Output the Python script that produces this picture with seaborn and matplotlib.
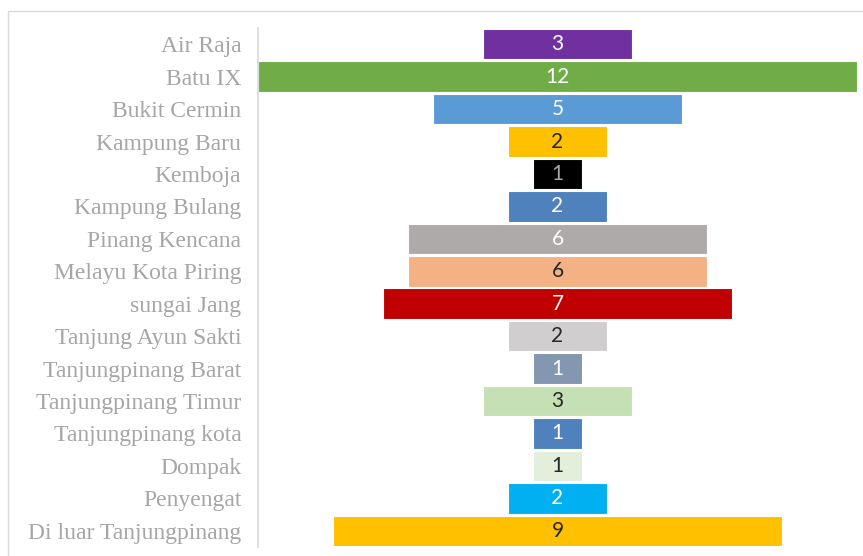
import matplotlib
matplotlib.use("Agg")
import matplotlib.pyplot as plt
from matplotlib.patches import Rectangle
import seaborn as sns
import pandas as pd

# ── Data ───────────────────────────────────────────────────────────────────────
AREAS = [
    "Air Raja", "Batu IX", "Bukit Cermin", "Kampung Baru", "Kemboja",
    "Kampung Bulang", "Pinang Kencana", "Melayu Kota Piring", "sungai Jang",
    "Tanjung Ayun Sakti", "Tanjungpinang Barat", "Tanjungpinang Timur",
    "Tanjungpinang kota", "Dompak", "Penyengat", "Di luar Tanjungpinang",
]
COUNTS = [3, 12, 5, 2, 1, 2, 6, 6, 7, 2, 1, 3, 1, 1, 2, 9]
BAR_COLORS = [
    "#7030A0", "#70AD47", "#5B9BD5", "#FFC000", "#000000", "#4F81BD",
    "#AEAAAA", "#F4B183", "#C00000", "#D0CECE", "#8497B0", "#C5E0B4",
    "#4F81BD", "#E2EFDA", "#00B0F0", "#FFC000",
]
VALUE_COLORS = [
    "white", "white", "white", "#262626", "#a6a6a6", "white",
    "white", "#262626", "white", "#262626", "white", "#262626",
    "white", "#262626", "white", "#262626",
]

# ── Style ──────────────────────────────────────────────────────────────────────
LABEL_GREY = "#a6a6a6"
sns.set_style("white")

df = pd.DataFrame({"area": AREAS, "count": COUNTS})

fig = plt.figure(figsize=(8.63, 5.56), dpi=100)
ax = fig.add_axes([258 / 863, 9 / 556, 599 / 863, 519 / 556])

sns.barplot(data=df, x="count", y="area", hue="area", palette=BAR_COLORS,
            legend=False, width=0.94, saturation=1, edgecolor="white",
            linewidth=0.8, orient="h", ax=ax)

# centre each bar on zero (funnel layout)
for bar, val, tc in zip(ax.patches, COUNTS, VALUE_COLORS):
    w = bar.get_width()
    bar.set_x(-w / 2)
    ax.text(0, bar.get_y() + bar.get_height() / 2, f"{val}",
            ha="center", va="center", fontsize=15, color=tc,
            family="Lato")

ax.set_xlim(-6, 6)
ax.set_xlabel("")
ax.set_ylabel("")
ax.set_xticks([])
ax.tick_params(axis="y", length=0, pad=12)
for lab in ax.get_yticklabels():
    lab.set_family("Liberation Serif")
    lab.set_fontsize(17)
    lab.set_color(LABEL_GREY)

for side in ["top", "right", "bottom"]:
    ax.spines[side].set_visible(False)
ax.spines["left"].set_color("#d9d9d9")
ax.spines["left"].set_linewidth(1.2)

# chart-area frame (cropped on the right and bottom)
fig.patches.append(Rectangle((8 / 863, -0.05), 1.0, 1 - 11 / 556 + 0.05,
                             transform=fig.transFigure, fill=False,
                             edgecolor="#d9d9d9", linewidth=1.0,
                             clip_on=False))

fig.savefig("out.png", dpi=100)
